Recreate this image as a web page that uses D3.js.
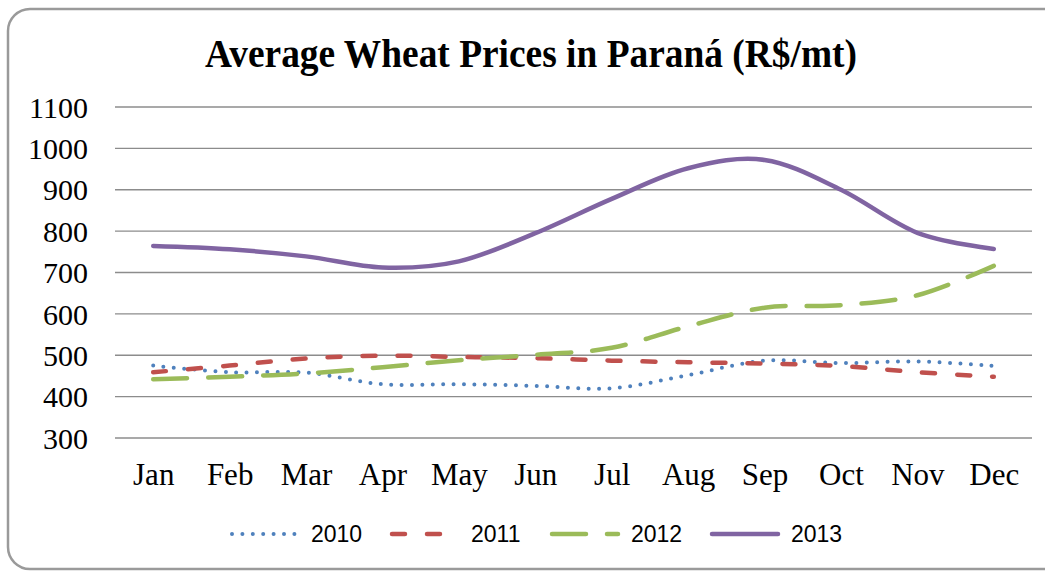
<!DOCTYPE html>
<html>
<head>
<meta charset="utf-8">
<script src="https://cdn.jsdelivr.net/npm/d3@7"></script>
<style>
  body { margin: 0; background: #fff; }
</style>
</head>
<body>
<svg id="chart" width="1045" height="571"></svg>
<script>
// Data
const months = ["Jan", "Feb", "Mar", "Apr", "May", "Jun", "Jul", "Aug", "Sep", "Oct", "Nov", "Dec"];
const years = ["2010", "2011", "2012", "2013"];
const prices2010 = [475, 459, 458, 430, 430, 426, 420, 452, 487, 481, 485, 474];
const prices2011 = [459, 475, 492, 499, 496, 493, 487, 483, 480, 474, 459, 448];
const prices2012 = [442, 448, 456, 471, 488, 501, 518, 570, 615, 621, 645, 716];
const prices2013 = [764, 756, 739, 712, 727, 795, 878, 952, 972, 900, 796, 757];
const yTicks = [300, 400, 500, 600, 700, 800, 900, 1000, 1100];

const series = [
    { name: years[0], values: prices2010, color: "#4F81BD", dash: "0,10.4", width: 4 },
    { name: years[1], values: prices2011, color: "#C0504D", dash: "13,22", width: 4.5 },
    { name: years[2], values: prices2012, color: "#9BBB59", dash: "34,21", width: 4.5 },
    { name: years[3], values: prices2013, color: "#8064A2", dash: null, width: 4.5 }
];

const svg = d3.select("#chart");

// outer frame
svg.append("rect")
    .attr("x", 8).attr("y", 9)
    .attr("width", 1060).attr("height", 560)
    .attr("rx", 22).attr("ry", 22)
    .attr("fill", "#fff")
    .attr("stroke", "#9a9a9a")
    .attr("stroke-width", 2.5);

const plotLeft = 115, plotRight = 1032, plotTop = 107, plotBottom = 438;

const x = d3.scalePoint().domain(months).range([plotLeft, plotRight]).padding(0.5);
const y = d3.scaleLinear().domain([300, 1100]).range([plotBottom, plotTop]);

// title
svg.append("text")
    .attr("x", 531).attr("y", 67)
    .attr("text-anchor", "middle")
    .attr("font-family", "'Liberation Serif', 'Times New Roman', serif")
    .attr("font-weight", "bold")
    .attr("font-size", 39)
    .attr("textLength", 652)
    .attr("lengthAdjust", "spacingAndGlyphs")
    .attr("fill", "#000")
    .text("Average Wheat Prices in Paraná (R$/mt)");

// gridlines
svg.append("g")
    .selectAll("line")
    .data(yTicks)
    .join("line")
    .attr("x1", plotLeft).attr("x2", plotRight)
    .attr("y1", d => y(d)).attr("y2", d => y(d))
    .attr("stroke", "#8c8c8c")
    .attr("stroke-width", 1.3);

// y axis labels
const yAxis = d3.axisLeft(y).tickValues(yTicks).tickFormat(d3.format("d")).tickSize(0).tickPadding(0);
const gy = svg.append("g")
    .attr("transform", `translate(${plotLeft - 27},0)`)
    .call(yAxis);
gy.select(".domain").remove();
gy.selectAll("text")
    .attr("font-family", "'Liberation Serif', 'Times New Roman', serif")
    .attr("font-size", 30)
    .attr("fill", "#000")
    .attr("dy", "0.34em");

// x axis labels
const xAxis = d3.axisBottom(x).tickSize(0).tickPadding(0);
const gx = svg.append("g")
    .attr("transform", `translate(0,${plotBottom + 47})`)
    .call(xAxis);
gx.select(".domain").remove();
gx.selectAll("text")
    .attr("font-family", "'Liberation Serif', 'Times New Roman', serif")
    .attr("font-size", 31)
    .attr("fill", "#000")
    .attr("dy", 0);

// smooth lines
const line = d3.line()
    .x((d, i) => x(months[i]))
    .y(d => y(d))
    .curve(d3.curveCardinal.tension(0));

svg.append("g")
    .selectAll("path")
    .data(series)
    .join("path")
    .attr("d", d => line(d.values))
    .attr("fill", "none")
    .attr("stroke", d => d.color)
    .attr("stroke-width", d => d.width)
    .attr("stroke-linecap", "round")
    .attr("stroke-dasharray", d => d.dash);

// legend
const legend = svg.append("g")
    .selectAll("g")
    .data(series)
    .join("g")
    .attr("transform", (d, i) => `translate(${232 + i * 160},534)`);

legend.append("line")
    .attr("x1", 0).attr("x2", 66)
    .attr("stroke", d => d.color)
    .attr("stroke-width", d => d.width)
    .attr("stroke-linecap", "round")
    .attr("stroke-dasharray", d => d.dash);

legend.append("text")
    .attr("x", 79).attr("y", 0)
    .attr("dy", "0.35em")
    .attr("font-family", "'Liberation Sans', Arial, sans-serif")
    .attr("font-size", 23)
    .attr("fill", "#000")
    .text(d => d.name);
</script>
</body>
</html>
